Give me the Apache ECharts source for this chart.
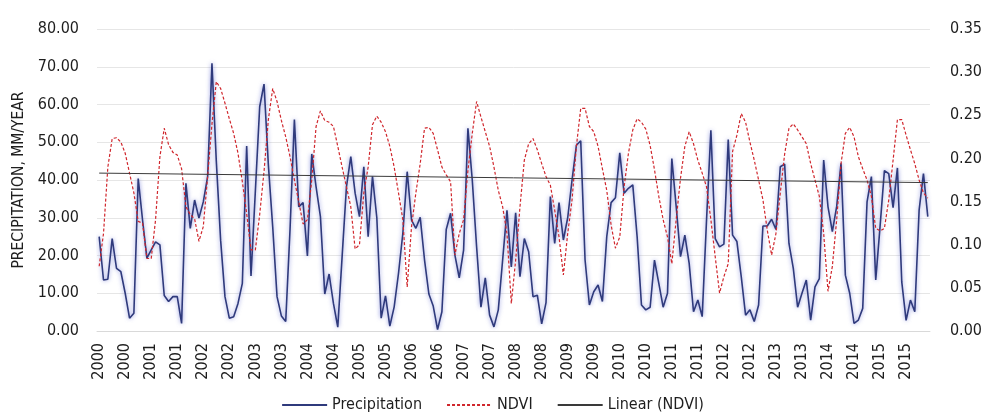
<!DOCTYPE html>
<html>
<head>
<meta charset="utf-8">
<script src="https://cdn.jsdelivr.net/npm/echarts@6/dist/echarts.min.js"></script>
<style>
  html, body { margin: 0; padding: 0; background: #fff; }
  #main { width: 985px; height: 414px; }
</style>
</head>
<body>
<div id="main"></div>
<script>
var years = [2000, 2001, 2002, 2003, 2004, 2005, 2006, 2007, 2008, 2009, 2010, 2011, 2012, 2013, 2014, 2015];

// monthly precipitation, mm/year (left axis)
var precipitation = [
  25, 13.5, 13.7, 24.5, 16.6, 15.7, 10, 3.4, 4.7, 40.4, 29.4, 19.3,
  21.5, 23.6, 22.8, 9.4, 7.8, 9.1, 9.1, 2.0, 39.1, 27.2, 34.7, 29.9,
  34.2, 40.9, 70.9, 45, 24, 9.1, 3.4, 3.8, 7.3, 12.6, 49, 14.6,
  37, 59.4, 65.4, 44, 27.6, 9.1, 4.0, 2.5, 27, 56, 32.9, 34,
  19.9, 46.9, 38.2, 30.3, 9.8, 15.1, 7.3, 1.0, 19.7, 38.2, 46.2, 36.5,
  30.3, 43.5, 25, 41, 30, 3.4, 9.3, 1.3, 6.4, 15.3, 25.9, 42.2,
  29.4, 27.2, 30.1, 18.8, 9.8, 6.6, 0.4, 5.1, 26.9, 31.2, 20.1, 14.1,
  21.4, 53.7, 40, 22.3, 6.3, 14.1, 4.2, 1.1, 5.6, 18.8, 32, 17,
  31.3, 14.4, 24.5, 21, 9.1, 9.5, 1.9, 7.5, 35.6, 23.2, 34, 24.1,
  30, 40, 49.2, 50.4, 18.8, 6.9, 10.4, 12.2, 7.8, 25, 34, 35.3,
  47.2, 36.5, 37.8, 38.7, 25, 6.9, 5.6, 6.3, 18.8, 12.6, 6.3, 10,
  45.7, 33, 19.7, 25.4, 17.9, 5.1, 8.2, 3.8, 29.4, 53.2, 24.5, 22.3,
  23, 50.7, 25.4, 23.7, 14.4, 4.2, 5.6, 2.5, 6.9, 27.8, 27.8, 29.6,
  26.9, 43.5, 44.2, 23.2, 16.6, 6.3, 10, 13.5, 2.9, 11.7, 13.9, 45.3,
  32.9, 26.3, 33, 44.4, 14.8, 10, 2, 2.9, 6, 34.2, 40.9, 13.5,
  27.7, 42.5, 41.7, 32.7, 43.2, 13, 2.8, 8.2, 5.1, 32, 41.7, 30.3
];

// monthly NDVI (right axis)
var ndvi = [
  0.075, 0.113, 0.19, 0.223, 0.224, 0.219, 0.206, 0.183, 0.16, 0.127, 0.125, 0.084,
  0.084, 0.129, 0.202, 0.235, 0.216, 0.207, 0.204, 0.188, 0.144, 0.135, 0.13, 0.104,
  0.121, 0.179, 0.24, 0.289, 0.281, 0.264, 0.246, 0.229, 0.206, 0.173, 0.136, 0.094,
  0.094, 0.135, 0.185, 0.245, 0.281, 0.266, 0.244, 0.225, 0.202, 0.175, 0.15, 0.124,
  0.129, 0.175, 0.237, 0.255, 0.244, 0.242, 0.237, 0.214, 0.19, 0.167, 0.144, 0.095,
  0.1, 0.16, 0.19, 0.239, 0.249, 0.242, 0.231, 0.214, 0.19, 0.16, 0.129, 0.051,
  0.121, 0.16, 0.194, 0.235, 0.236, 0.229, 0.21, 0.19, 0.181, 0.173, 0.088, 0.113,
  0.129, 0.186, 0.229, 0.266, 0.248, 0.231, 0.214, 0.19, 0.163, 0.144, 0.113, 0.032,
  0.082, 0.144, 0.198, 0.217, 0.223, 0.21, 0.194, 0.179, 0.169, 0.14, 0.109, 0.065,
  0.113, 0.152, 0.214, 0.258, 0.258, 0.237, 0.231, 0.214, 0.188, 0.163, 0.123, 0.096,
  0.109, 0.167, 0.206, 0.233, 0.246, 0.242, 0.234, 0.215, 0.187, 0.156, 0.129, 0.109,
  0.078, 0.129, 0.177, 0.214, 0.231, 0.217, 0.198, 0.183, 0.167, 0.129, 0.086, 0.044,
  0.063, 0.078, 0.208, 0.227, 0.252, 0.242, 0.219, 0.198, 0.175, 0.152, 0.117, 0.088,
  0.113, 0.16, 0.205, 0.235, 0.24, 0.233, 0.225, 0.217, 0.194, 0.175, 0.156, 0.113,
  0.046, 0.075, 0.129, 0.194, 0.229, 0.236, 0.225, 0.202, 0.188, 0.175, 0.156, 0.119,
  0.116, 0.119, 0.152, 0.198, 0.245, 0.245, 0.227, 0.21, 0.194, 0.175, 0.16, 0.154
];

// linear trend of NDVI, read at first and last month
var trendStart = 0.183;
var trendEnd = 0.172;

var leftTicks = { min: 0, max: 80, interval: 10 };
var rightTicks = { min: 0, max: 0.35, interval: 0.05 };

// one category per month, labelled with its year
var months = [];
years.forEach(function (y) {
  for (var m = 0; m < 12; m++) months.push(String(y));
});

var font = "'DejaVu Sans Condensed', 'DejaVu Sans', sans-serif";
var ink = '#1e1e1e';

var chart = echarts.init(document.getElementById('main'));

chart.setOption({
  animation: false,
  textStyle: { fontFamily: font },
  grid: { left: 97, right: 52, top: 29, bottom: 83 },
  legend: {
    top: 392,
    left: 'center',
    padding: 5,
    itemWidth: 45,
    itemHeight: 12,
    itemGap: 24,
    itemStyle: { opacity: 0 },
    textStyle: { fontFamily: font, fontSize: 16, color: ink },
    data: ['Precipitation', 'NDVI', 'Linear (NDVI)']
  },
  xAxis: {
    type: 'category',
    data: months,
    boundaryGap: true,
    axisTick: { show: false },
    axisLine: { lineStyle: { color: '#d9d9d9' } },
    axisLabel: {
      interval: 5,
      rotate: 90,
      margin: 12,
      fontSize: 16,
      color: ink,
      fontFamily: font
    }
  },
  yAxis: [
    {
      type: 'value',
      min: leftTicks.min,
      max: leftTicks.max,
      interval: leftTicks.interval,
      name: 'PRECIPITATION, MM/YEAR',
      nameLocation: 'middle',
      nameGap: 68,
      nameTextStyle: { fontFamily: font, fontSize: 15.5, color: ink },
      axisLine: { show: false },
      axisTick: { show: false },
      axisLabel: {
        margin: 18,
        fontSize: 16,
        color: ink,
        fontFamily: font,
        formatter: function (v) { return v.toFixed(2); }
      },
      splitLine: { lineStyle: { color: '#e6e6e6' } }
    },
    {
      type: 'value',
      min: rightTicks.min,
      max: rightTicks.max,
      interval: rightTicks.interval,
      axisLine: { show: false },
      axisTick: { show: false },
      axisLabel: {
        margin: 20,
        fontSize: 16,
        color: ink,
        fontFamily: font,
        formatter: function (v) { return v.toFixed(2); }
      },
      splitLine: { show: false }
    }
  ],
  series: [
    {
      name: 'Precipitation',
      type: 'line',
      yAxisIndex: 0,
      symbol: 'none',
      data: precipitation,
      lineStyle: {
        color: '#2f3a7c',
        width: 1.6,
        shadowBlur: 4,
        shadowColor: 'rgba(100,110,210,0.75)'
      },
      itemStyle: { color: '#2f3a7c' },
      z: 3
    },
    {
      name: 'NDVI',
      type: 'line',
      yAxisIndex: 1,
      symbol: 'none',
      data: ndvi,
      lineStyle: { color: '#d0262c', width: 1.2, type: [3, 2] },
      itemStyle: { color: '#d0262c' },
      z: 4
    },
    {
      name: 'Linear (NDVI)',
      type: 'line',
      yAxisIndex: 1,
      symbol: 'none',
      data: [[0, trendStart], [months.length - 1, trendEnd]],
      lineStyle: { color: '#3a3a3a', width: 1 },
      itemStyle: { color: '#3a3a3a' },
      z: 5
    }
  ]
});
</script>
</body>
</html>
